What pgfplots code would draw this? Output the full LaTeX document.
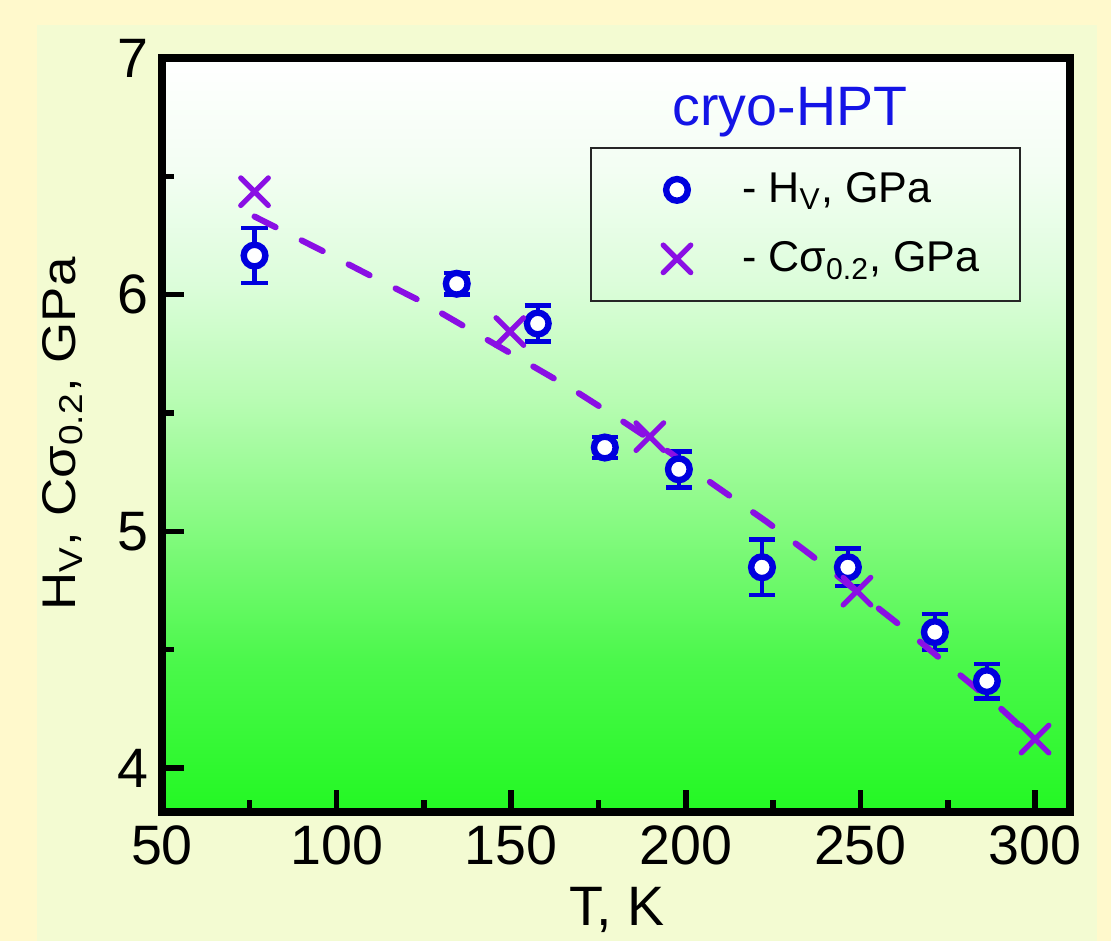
\documentclass[border=0pt]{standalone}
\usepackage{fontspec}
\setmainfont{Liberation Sans}
\usepackage{graphicx}
\usepackage{pgfplots}
\pgfplotsset{compat=1.18}

\definecolor{outerY}{RGB}{255,249,204}
\definecolor{panelY}{RGB}{243,251,210}
\definecolor{hvblue}{RGB}{0,0,222}
\definecolor{txtblue}{RGB}{20,20,230}
\definecolor{cpurple}{RGB}{138,15,228}
\definecolor{g0}{RGB}{35,248,35}
\definecolor{g1}{RGB}{75,248,75}
\definecolor{g2}{RGB}{140,250,135}
\definecolor{g3}{RGB}{185,252,180}
\definecolor{g4}{RGB}{220,253,218}
\definecolor{g5}{RGB}{243,254,243}

\pgfdeclareverticalshading{bggreen}{100bp}{color(0bp)=(g0); color(25bp)=(g0); color(35bp)=(g1); color(45bp)=(g2); color(52.5bp)=(g3); color(60bp)=(g4); color(67.5bp)=(g5); color(75bp)=(white); color(100bp)=(white)}

\pgfplotstableread{
x y e
76.5 6.165 0.116
134.4 6.046 0.045
157.6 5.878 0.076
176.8 5.354 0.045
198.0 5.262 0.076
221.8 4.848 0.117
246.4 4.848 0.080
271.3 4.574 0.076
286.2 4.367 0.073
}\hvdata

\pgfplotstableread{
x y
76.5 6.435
149.6 5.844
189.7 5.400
249.0 4.747
300.0 4.122
}\csdata

\pgfplotstableread{
x y
76.5 6.33
96.6 6.18
109.7 6.08
124.4 5.97
138.4 5.85
152.4 5.73
167.6 5.60
181.4 5.47
195.7 5.33
207.7 5.20
223.2 5.04
235.8 4.90
263.3 4.58
277.1 4.41
290.3 4.25
301.4 4.10
}\fitdata

\begin{document}
\begin{tikzpicture}
\fill[outerY] (0,0) rectangle (399.96pt,338.76pt);
\fill[panelY] (13.32pt,0) rectangle (394.92pt,329.76pt);
\begin{axis}[
  scale only axis,
  width=326.88pt, height=271.44pt,
  at={(58.32pt,46.44pt)}, anchor=south west,
  xmin=50, xmax=310, ymin=3.814, ymax=7,
  xtick={50,100,...,300}, ytick={4,5,6,7},
  minor xtick={75,125,...,275}, minor ytick={4.5,5.5,6.5},
  tick pos=left, tick align=inside,
  major tick length=8pt, minor tick length=4.3pt,
  every tick/.style={black, line width=2pt},
  axis line style={black, line width=2.7pt},
  axis background/.style={shade, shading=bggreen},
  /pgf/number format/assume math mode=true,
  tick label style={font=\fontsize{20}{24}\selectfont},
  xticklabel style={yshift=-1.5pt},
  yticklabel style={xshift=-1.3pt},
  xlabel={T, K},
  ylabel={\scalebox{1.12}[1]{H\textsubscript{V}, Cσ\textsubscript{0.2}, GPa}},
  every axis x label/.style={at={(axis description cs:0.501,-0.1508)}, anchor=base, font=\fontsize{20}{24}\selectfont},
  every axis y label/.style={at={(axis description cs:-0.0958,0.5013)}, rotate=90, anchor=base, font=\fontsize{17}{20}\selectfont},
  legend image code/.code={\path[draw=none, fill=none] (0pt,-1pt) rectangle (38pt,1pt); \draw[#1, only marks] plot coordinates {(19pt,0pt)};},
  legend style={at={(axis description cs:0.4714,0.882)}, anchor=north west,
    draw=black!85, line width=0.6pt, fill=none,
    inner xsep=12pt, inner ysep=7pt, row sep=8.5pt,
    /tikz/every odd column/.style={column sep=2.5pt},
    font=\fontsize{15.5}{18}\selectfont, cells={anchor=west}},
  clip=false,
]
\addplot[only marks, mark=*, color=hvblue, mark size=3.9pt,
  mark options={fill=white, draw=hvblue, line width=2.3pt},
  error bars/.cd, y dir=both, y explicit, error mark=|,
  error bar style={line width=1.6pt, hvblue, solid},
  error mark options={line width=1.6pt, mark size=4.7pt, draw=hvblue}]
  table[x=x, y=y, y error=e] {\hvdata};
\addlegendentry{\makebox[86pt][l]{- H\textsubscript{V}, GPa}}
\addplot[forget plot, no marks, color=cpurple, line width=2.2pt, line cap=round,
  dash pattern=on 8.5pt off 10.5pt] table[x=x, y=y] {\fitdata};
\addplot[only marks, mark=x, color=cpurple, mark size=7pt,
  mark options={line width=1.9pt, line cap=round}]
  table[x=x, y=y] {\csdata};
\addlegendentry{\makebox[86pt][l]{- Cσ\textsubscript{0.2}, GPa\rule[-8pt]{0pt}{0pt}}}
\node[font=\fontsize{20}{24}\selectfont, text=txtblue, anchor=base] at (rel axis cs:0.6916,0.9111) {cryo-HPT};
\end{axis}
\pgfresetboundingbox
\useasboundingbox (0,0) rectangle (399.96pt,338.76pt);
\end{tikzpicture}
\end{document}
